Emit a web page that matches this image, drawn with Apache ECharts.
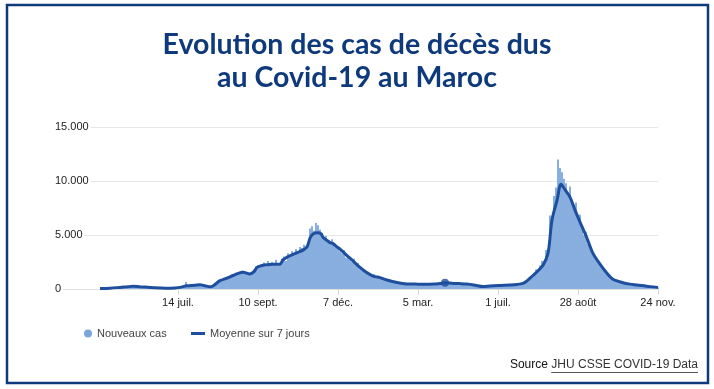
<!DOCTYPE html>
<html><head><meta charset="utf-8">
<script src="https://cdn.jsdelivr.net/npm/echarts@6/dist/echarts.min.js"></script>
<style>html,body{margin:0;padding:0;background:#fff}#c{width:714px;height:389px}</style>
</head><body><div id="c"></div>
<script>
const titleText = 'Evolution des cas de décès dus\nau Covid-19 au Maroc';
const tickPositions = [60, 100, 140, 180, 220, 260, 300];
const tickLabels = ['14 juil.', '10 sept.', '7 déc.', '5 mar.', '1 juil.', '28 août', '24 nov.'];
const seriesNames = ['Nouveaux cas', 'Moyenne sur 7 jours'];
const sourcePrefix = 'Source ';
const sourceLink = 'JHU CSSE COVID-19 Data';

// daily new cases, one value per step, starting at step barStart
const barStart = 22;
const newCases = [
  60, 40, 80, 70, 90, 110, 80, 130, 150, 120,
  200, 170, 230, 260, 210, 280, 240, 220, 190, 230,
  180, 150, 200, 140, 160, 120, 130, 90, 110, 100,
  80, 90, 60, 70, 100, 80, 110, 90, 130, 160,
  220, 380, 650, 300, 420, 360, 400, 480, 350, 440,
  320, 280, 250, 210, 180, 240, 300, 520, 640, 820,
  900, 1050, 980, 1200, 1150, 1350, 1250, 1500, 1450, 1600,
  1700, 1500, 1450, 1300, 1400, 1550, 1800, 2100, 2200, 2000,
  2300, 2450, 2100, 2600, 2200, 2500, 2350, 2700, 2150, 2400,
  2800, 3000, 2600, 3300, 3100, 3500, 3200, 3700, 3400, 3900,
  3800, 4100, 3600, 4200, 5600, 5800, 5400, 6100, 5900, 5500,
  5200, 4700, 4900, 4500, 4300, 4600, 4100, 4000, 3800, 3500,
  3300, 3600, 2900, 3000, 2700, 2500, 2800, 2200, 2400, 2000,
  1800, 1700, 1500, 1600, 1300, 1200, 1400, 1000, 1150, 1050,
  950, 900, 850, 780, 820, 700, 650, 600, 580, 540,
  520, 480, 460, 500, 430, 450, 470, 420, 460, 440,
  450, 430, 470, 420, 460, 480, 440, 500, 520, 490,
  560, 600, 620, 570, 540, 520, 550, 500, 480, 510,
  470, 450, 430, 400, 380, 350, 320, 280, 250, 240,
  210, 230, 260, 250, 280, 300, 290, 310, 320, 340,
  350, 330, 380, 360, 390, 370, 410, 430, 400, 470,
  520, 650, 780, 900, 1100, 1300, 1500, 1800, 1700, 2200,
  2600, 2400, 3600, 3200, 6800, 6200, 8600, 9400, 12000, 11200,
  10800, 10200, 9800, 8600, 9500, 8200, 7600, 8000, 6600, 6900,
  5600, 5000, 5300, 4200, 3900, 3600, 3100, 2800, 2500, 2200,
  1900, 1700, 1500, 1300, 1150, 1000, 900, 820, 700, 660,
  600, 560, 520, 480, 450, 420, 400, 380, 360, 340,
  310, 290, 270, 250, 230, 210, 190, 170, 150
];

// 7-day average, read at key steps
const avgSteps = [21, 26, 31, 34.5, 37.5, 41, 46, 51, 54.5, 58.5, 61, 64.5, 68.5, 71, 73.5, 76, 77.5, 81, 84.5, 87.5, 89.5, 92.5, 96, 98, 99.5, 102.5, 105, 107.5, 111, 112.5, 115, 117.5, 120, 122.5, 124.5, 126, 127.5, 130, 131.5, 132.5, 134.5, 136, 137.5, 139.5, 141, 144.5, 147.5, 151, 154.5, 157.5, 161, 164.5, 169.5, 174.5, 180, 184.5, 188.5, 191, 193.5, 197.5, 201, 204.5, 208.5, 212.5, 216, 221, 226, 229.5, 232.5, 234.5, 236, 239.5, 242.5, 245, 247, 249.5, 251.5, 253.5, 256, 258.5, 261, 264.5, 267.5, 271, 274.5, 277.5, 282.5, 286, 289.5, 296, 300];
const avgValues = [50, 80, 150, 200, 250, 200, 150, 100, 70, 100, 150, 300, 350, 400, 300, 200, 280, 770, 1000, 1250, 1400, 1550, 1400, 1600, 2000, 2200, 2250, 2300, 2300, 2700, 3000, 3200, 3400, 3600, 3900, 4700, 5100, 5200, 5100, 4800, 4500, 4300, 4200, 3900, 3700, 3100, 2600, 2000, 1500, 1200, 1050, 830, 600, 470, 450, 440, 470, 500, 580, 520, 500, 460, 350, 220, 280, 330, 370, 420, 520, 750, 1000, 1600, 2200, 3300, 6400, 8200, 9700, 9200, 8500, 7300, 6200, 4700, 3300, 2300, 1450, 900, 580, 450, 370, 220, 150];
const markedPoint = [193.5, 580];

const navy = '#0e3a7c';
const barColor = '#7ba6db';
const lineColor = '#1d4f9e';
const baseFont = 'Liberation Sans, Arial, sans-serif';

const chart = echarts.init(document.getElementById('c'), null, {renderer: 'canvas'});

const ctx = document.createElement('canvas').getContext('2d');
ctx.font = '12px ' + baseFont;
const wPrefix = ctx.measureText(sourcePrefix).width;
const wLink = ctx.measureText(sourceLink).width;
const srcRight = 698, srcY = 365;

chart.setOption({
  animation: false,
  backgroundColor: '#fff',
  title: {
    text: titleText, left: 'center', top: 23,
    textStyle: {fontFamily: 'Lato', fontWeight: 'bold', fontSize: 28.5, lineHeight: 33, color: navy}
  },
  grid: {left: 55, right: 56, top: 127, bottom: 100},
  legend: [
    {data: [{name: seriesNames[0], icon: 'circle'}], left: 79, top: 323, itemWidth: 8, itemHeight: 8, itemGap: 0,
     textStyle: {fontFamily: baseFont, fontSize: 11, color: '#444'}},
    {data: [{name: seriesNames[1], icon: 'rect'}], left: 186, top: 323, itemWidth: 14, itemHeight: 3,
     textStyle: {fontFamily: baseFont, fontSize: 11, color: '#444'}}
  ],
  xAxis: {
    type: 'value', min: -1.5, max: 300,
    splitLine: {show: false},
    axisLine: {show: true, onZero: true, lineStyle: {color: '#e2e2e2', width: 1}},
    axisTick: {show: true, customValues: tickPositions, length: 6, lineStyle: {color: '#d8d8d8'}},
    axisLabel: {customValues: tickPositions, margin: 8, fontFamily: baseFont, fontSize: 11, color: '#222',
      formatter: v => { const k = tickPositions.indexOf(Math.round(v)); return k >= 0 ? tickLabels[k] : ''; }}
  },
  yAxis: {
    type: 'value', min: 0, max: 15000, interval: 5000,
    axisLine: {show: false}, axisTick: {show: false},
    splitLine: {lineStyle: {color: '#e6e6e6', width: 1}},
    axisLabel: {inside: true, margin: 0, fontFamily: baseFont, fontSize: 11, color: '#222',
      backgroundColor: '#fff', padding: [1, 2, 1, 0],
      formatter: v => String(v).replace(/\B(?=(\d{3})+(?!\d))/g, '.')}
  },
  series: [
    {name: seriesNames[0], type: 'bar', barWidth: 1.8, barGap: '-100%',
     itemStyle: {color: barColor},
     data: newCases.map((v, k) => [barStart + k, v])},
    {name: seriesNames[1], type: 'line', smooth: 0.3, symbol: 'none',
     lineStyle: {color: lineColor, width: 3}, itemStyle: {color: lineColor},
     data: avgSteps.map((s, k) => [s, avgValues[k]])},
    {name: 'point', type: 'scatter', symbolSize: 8, itemStyle: {color: lineColor},
     data: [markedPoint], z: 5}
  ],
  graphic: [
    {type: 'rect', shape: {x: 7, y: 5, width: 701, height: 378},
     style: {fill: 'none', stroke: navy, lineWidth: 2.5}, z: 100},
    {type: 'text', x: srcRight - wLink - wPrefix, y: srcY,
     style: {text: sourcePrefix, font: '12px ' + baseFont, fill: '#111', verticalAlign: 'middle'}},
    {type: 'text', x: srcRight - wLink, y: srcY,
     style: {text: sourceLink, font: '12px ' + baseFont, fill: '#333', verticalAlign: 'middle'}},
    {type: 'line', shape: {x1: srcRight - wLink, y1: srcY + 7.5, x2: srcRight, y2: srcY + 7.5},
     style: {stroke: '#555', lineWidth: 1}}
  ]
});
</script></body></html>
